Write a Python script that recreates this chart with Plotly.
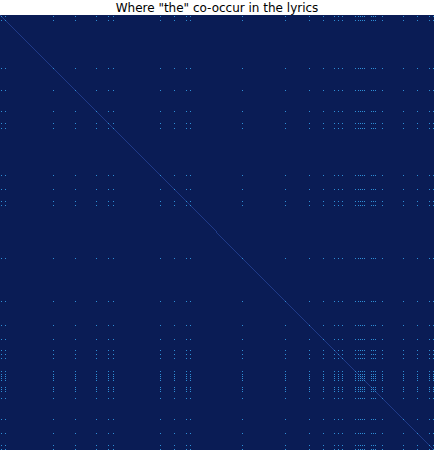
import numpy as np
import plotly.graph_objects as go

# ---- data ----
n_words = 434
the_positions = [1, 5, 53, 75, 96, 108, 113, 160, 174, 186, 190, 242, 285, 309,
                 323, 334, 338, 342, 355, 358, 360, 362, 364, 371, 373, 375, 382,
                 403, 417, 429, 433]
title_text = 'Where "the" co-occur in the lyrics'

# ---- matrix: 0 = no match, 1 = same word position, 2 = both "the" ----
is_the = np.zeros(n_words, dtype=bool)
is_the[the_positions] = True
z = np.zeros((n_words, n_words))
np.fill_diagonal(z, 1)
z[np.outer(is_the, is_the)] = 2

bg = "#0a1c55"
diag = "#1f3a88"
hit = "#2f8fd6"
colorscale = [[0.0, bg], [0.33, bg], [0.33, diag], [0.66, diag], [0.66, hit], [1.0, hit]]

fig = go.Figure(go.Heatmap(z=z, zmin=0, zmax=2, colorscale=colorscale,
                           showscale=False, hoverinfo="skip"))

fig.update_layout(
    width=434, height=450,
    margin=dict(l=0, r=0, t=15, b=0),
    paper_bgcolor="white", plot_bgcolor=bg,
    title=dict(text=title_text, x=0.5, xanchor="center",
               y=1 - 7.5 / 450, yanchor="middle", yref="container",
               pad=dict(t=0, b=0),
               font=dict(family="DejaVu Sans", size=12, color="black")),
)
fig.update_xaxes(visible=False, range=[-0.5, n_words - 0.5])
fig.update_yaxes(visible=False, range=[n_words - 0.5, -0.5])

fig.write_html("out.html")
